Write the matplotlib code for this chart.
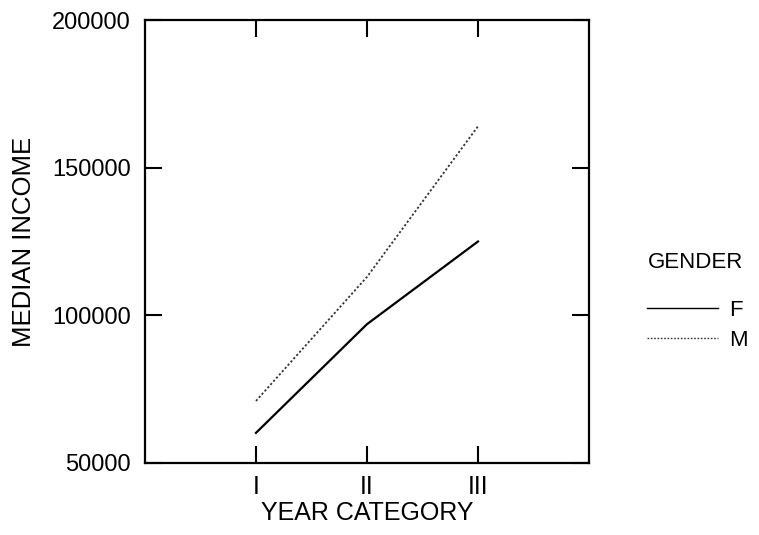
import matplotlib.pyplot as plt

plt.rcParams['font.family'] = ['Liberation Sans', 'DejaVu Sans']

yearCats = ["I", "II", "III"]
yearPos = [1, 2, 3]
incomeF = [60200, 97000, 125000]
incomeM = [71000, 113000, 164000]
yTicks = [50000, 100000, 150000, 200000]

fig = plt.figure(figsize=(7.59, 5.35), dpi=100)
ax = fig.add_axes([0.191, 0.1346, 0.585, 0.828])

lineF, = ax.plot(yearPos, incomeF, color='black', lw=1.6, ls='-', label='F')
lineM, = ax.plot(yearPos, incomeM, color='#333333', lw=1.3, ls=(0, (1.2, 1.2)), label='M')

ax.set_xlim(0, 4)
ax.set_ylim(50000, 200000)
ax.set_xticks(yearPos)
ax.set_xticklabels(yearCats)
ax.set_yticks(yTicks)
ax.set_yticklabels([str(v) for v in yTicks])
ax.tick_params(direction='in', length=12, width=1.5, top=True, right=True,
               labelsize=17, pad=10, color='black')
ax.tick_params(axis='x', labelsize=18, pad=9)
for sp in ax.spines.values():
    sp.set_linewidth(1.6)

ax.set_xlabel("YEAR CATEGORY", fontsize=18, labelpad=1)
ax.set_ylabel("MEDIAN INCOME", fontsize=18.5, labelpad=12)

# legend: title drawn as separate text so the gap matches
fig.text(0.853, 1 - 263 / 535, "GENDER", fontsize=16, ha='left', va='center')
leg = fig.legend(handles=[lineF, lineM], loc='upper left',
                 bbox_to_anchor=(0.852, 0.4395), frameon=False, fontsize=16,
                 handlelength=3.2, handletextpad=0.5,
                 labelspacing=0.42, borderaxespad=0, borderpad=0)
for h in leg.get_lines():
    h.set_linewidth(1.0)

fig.savefig("out.png", dpi=100)
